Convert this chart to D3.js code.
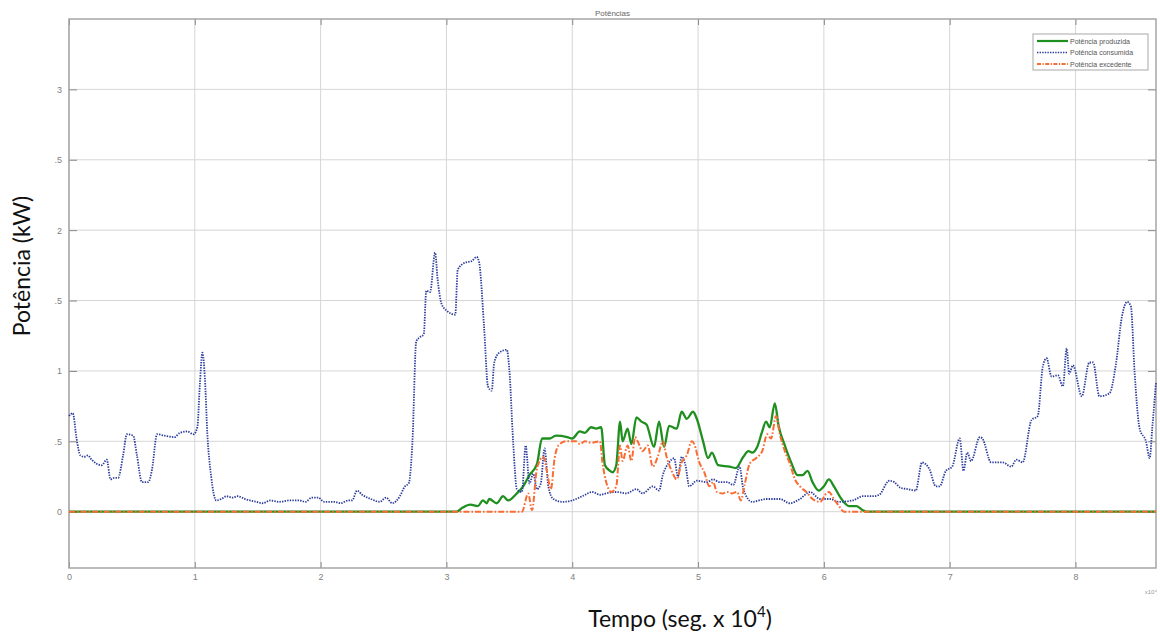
<!DOCTYPE html>
<html>
<head>
<meta charset="utf-8">
<script src="https://cdn.jsdelivr.net/npm/d3@7"></script>
<style>
  html, body { margin: 0; padding: 0; background: #ffffff; }
  svg { display: block; }
</style>
</head>
<body>
<svg id="chart" width="1160" height="632"></svg>
<script>
// ---------- data (time in seg x 10^4, power in kW) ----------
const chartTitle = "Potências";
const xLabel = "Tempo (seg. x 10";
const yLabel = "Potência (kW)";
const seriesNames = ["Potência produzida", "Potência consumida", "Potência excedente"];

const xTicks = [0, 1, 2, 3, 4, 5, 6, 7, 8];
const xTickLabels = ["0", "1", "2", "3", "4", "5", "6", "7", "8"];
const yTicks = [0, 0.5, 1, 1.5, 2, 2.5, 3];
const yTickLabels = ["0", ".5", "1", ".5", "2", ".5", "3"];

const tConsumida = [0.00,0.03,0.06,0.09,0.12,0.15,0.18,0.22,0.26,0.30,0.33,0.36,0.39,0.43,0.46,0.51,0.54,0.58,0.63,0.66,0.70,0.76,0.84,0.88,0.94,0.99,1.02,1.04,1.06,1.08,1.10,1.13,1.17,1.21,1.25,1.30,1.34,1.40,1.49,1.54,1.60,1.67,1.75,1.83,1.88,1.93,1.98,2.03,2.11,2.16,2.22,2.25,2.29,2.33,2.40,2.47,2.52,2.57,2.63,2.67,2.70,2.73,2.76,2.79,2.82,2.84,2.87,2.91,2.93,2.96,3.00,3.07,3.09,3.15,3.20,3.24,3.26,3.30,3.33,3.36,3.38,3.42,3.48,3.50,3.53,3.56,3.60,3.63,3.66,3.69,3.72,3.75,3.78,3.81,3.85,3.92,4.00,4.08,4.16,4.22,4.27,4.35,4.43,4.51,4.56,4.64,4.69,4.72,4.77,4.81,4.84,4.87,4.90,4.93,4.99,5.07,5.12,5.17,5.23,5.28,5.33,5.36,5.43,5.54,5.65,5.73,5.81,5.89,5.97,6.05,6.12,6.23,6.31,6.39,6.44,6.52,6.56,6.61,6.67,6.73,6.78,6.84,6.89,6.92,6.97,7.02,7.08,7.11,7.14,7.17,7.24,7.26,7.33,7.42,7.49,7.53,7.58,7.65,7.70,7.74,7.77,7.81,7.86,7.90,7.93,7.95,7.98,8.05,8.11,8.14,8.19,8.27,8.32,8.37,8.41,8.44,8.47,8.51,8.56,8.59,8.61,8.64];
const pConsumida = [0.68,0.70,0.52,0.40,0.39,0.40,0.37,0.34,0.33,0.37,0.23,0.24,0.24,0.40,0.55,0.54,0.40,0.21,0.21,0.30,0.55,0.54,0.53,0.56,0.57,0.55,0.60,0.90,1.13,0.95,0.55,0.25,0.08,0.09,0.11,0.10,0.11,0.09,0.07,0.06,0.08,0.07,0.08,0.08,0.07,0.10,0.10,0.07,0.07,0.06,0.08,0.08,0.15,0.12,0.09,0.07,0.10,0.06,0.11,0.18,0.20,0.50,1.21,1.24,1.26,1.57,1.56,1.84,1.65,1.48,1.43,1.40,1.72,1.77,1.78,1.81,1.77,1.30,0.89,0.86,1.06,1.13,1.15,1.01,0.50,0.16,0.14,0.47,0.20,0.27,0.16,0.20,0.45,0.18,0.09,0.07,0.08,0.11,0.14,0.12,0.13,0.14,0.13,0.16,0.13,0.18,0.15,0.26,0.35,0.38,0.25,0.39,0.33,0.18,0.22,0.21,0.23,0.21,0.21,0.19,0.32,0.16,0.07,0.09,0.09,0.06,0.09,0.14,0.09,0.09,0.07,0.08,0.11,0.11,0.12,0.22,0.21,0.17,0.16,0.15,0.35,0.30,0.18,0.18,0.29,0.32,0.52,0.29,0.42,0.36,0.53,0.52,0.35,0.35,0.32,0.37,0.35,0.65,0.68,1.03,1.09,0.96,0.97,0.89,1.16,0.98,1.04,0.82,1.06,1.06,0.82,0.84,1.04,1.39,1.49,1.46,0.99,0.59,0.50,0.38,0.59,0.92];

const tProduzida = [0,3.08,3.13,3.19,3.25,3.29,3.32,3.34,3.40,3.45,3.49,3.56,3.61,3.66,3.72,3.76,3.82,3.87,3.96,4.00,4.06,4.10,4.15,4.19,4.23,4.26,4.30,4.32,4.35,4.38,4.40,4.44,4.47,4.51,4.55,4.59,4.65,4.69,4.73,4.77,4.83,4.87,4.91,4.96,4.99,5.04,5.08,5.11,5.16,5.25,5.30,5.36,5.40,5.43,5.47,5.51,5.54,5.57,5.61,5.64,5.69,5.74,5.79,5.83,5.87,5.91,5.96,6.00,6.04,6.08,6.14,6.20,6.26,6.31,6.34,8.64];
const pProduzida = [0,0,0.03,0.05,0.04,0.08,0.06,0.09,0.06,0.11,0.08,0.13,0.18,0.26,0.34,0.52,0.52,0.54,0.53,0.52,0.57,0.56,0.60,0.59,0.60,0.33,0.29,0.28,0.33,0.64,0.50,0.59,0.48,0.67,0.64,0.62,0.46,0.64,0.46,0.61,0.59,0.71,0.66,0.71,0.66,0.50,0.38,0.42,0.33,0.32,0.31,0.39,0.43,0.42,0.46,0.57,0.64,0.60,0.77,0.61,0.47,0.35,0.26,0.26,0.29,0.21,0.15,0.18,0.23,0.18,0.09,0.04,0.04,0.01,0,0];

const tExcedente = [0,3.60,3.65,3.68,3.72,3.77,3.80,3.83,3.86,3.89,3.95,4.03,4.06,4.10,4.15,4.22,4.24,4.27,4.31,4.35,4.38,4.40,4.44,4.47,4.50,4.52,4.56,4.60,4.64,4.68,4.72,4.75,4.79,4.83,4.87,4.91,4.95,4.97,5.01,5.05,5.09,5.12,5.15,5.20,5.23,5.27,5.31,5.34,5.37,5.41,5.46,5.51,5.55,5.58,5.62,5.65,5.69,5.73,5.77,5.81,5.86,5.91,5.97,6.02,6.04,6.08,6.12,6.16,8.64];
const pExcedente = [0,0,0.13,0.01,0.31,0.39,0.28,0.16,0.38,0.47,0.50,0.50,0.48,0.50,0.49,0.50,0.35,0.21,0.14,0.18,0.47,0.36,0.47,0.36,0.53,0.50,0.43,0.47,0.32,0.39,0.50,0.39,0.29,0.23,0.35,0.40,0.50,0.48,0.35,0.28,0.18,0.21,0.14,0.13,0.14,0.13,0.14,0.08,0.19,0.34,0.38,0.43,0.55,0.52,0.68,0.55,0.43,0.34,0.23,0.18,0.14,0.09,0.07,0.13,0.14,0.09,0.04,0,0];

// ---------- layout ----------
const svg = d3.select("#chart");
const L = 69, R = 1156, T = 19, B = 568;
const x = d3.scaleLinear().domain([0, 8.64]).range([L, R]);
const y = d3.scaleLinear().domain([-0.4, 3.5]).range([B, T]);

svg.append("rect").attr("x", 0).attr("y", 0).attr("width", 1160).attr("height", 632).attr("fill", "#fff");

// grid
const g = svg.append("g");
g.selectAll(".gx").data(xTicks).enter().append("line")
  .attr("x1", d => x(d)).attr("x2", d => x(d)).attr("y1", T).attr("y2", B)
  .attr("stroke", "#d6d6d6").attr("stroke-width", 1);
g.selectAll(".gy").data(yTicks).enter().append("line")
  .attr("x1", L).attr("x2", R).attr("y1", d => y(d)).attr("y2", d => y(d))
  .attr("stroke", "#d6d6d6").attr("stroke-width", 1);

// axes via d3 (inner ticks)
const fmtX = (d, i) => xTickLabels[i];
const fmtY = (d, i) => yTickLabels[i];
const axB = svg.append("g").attr("transform", `translate(0,${B})`)
  .call(d3.axisBottom(x).tickValues(xTicks).tickFormat(fmtX).tickSizeInner(-6).tickSizeOuter(0).tickPadding(6));
const axT = svg.append("g").attr("transform", `translate(0,${T})`)
  .call(d3.axisTop(x).tickValues(xTicks).tickFormat("").tickSizeInner(-6).tickSizeOuter(0));
const axL = svg.append("g").attr("transform", `translate(${L},0)`)
  .call(d3.axisLeft(y).tickValues(yTicks).tickFormat(fmtY).tickSizeInner(-8).tickSizeOuter(0).tickPadding(7));
const axR = svg.append("g").attr("transform", `translate(${R},0)`)
  .call(d3.axisRight(y).tickValues(yTicks).tickFormat("").tickSizeInner(-8).tickSizeOuter(0));
[axB, axT, axL, axR].forEach(a => {
  a.select(".domain").remove();
  a.selectAll(".tick line").attr("stroke", "#8a8a8a").attr("stroke-width", 1);
  a.selectAll(".tick text").attr("fill", "#808080").attr("font-family", "Liberation Sans, Arial, sans-serif").attr("font-size", 9);
});

// box
svg.append("rect").attr("x", L).attr("y", T).attr("width", R - L).attr("height", B - T)
  .attr("fill", "none").attr("stroke", "#a0a0a0").attr("stroke-width", 1.4);

// lines
const line = d3.line().x(d => x(d[0])).y(d => y(d[1])).curve(d3.curveMonotoneX);
const zip = (a, b) => a.map((v, i) => [v, b[i]]);
const plot = svg.append("g");
plot.append("path").datum(zip(tProduzida, pProduzida)).attr("d", line)
  .attr("fill", "none").attr("stroke", "#1f8f1f").attr("stroke-width", 2.3).attr("stroke-linejoin", "round");
plot.append("path").datum(zip(tConsumida, pConsumida)).attr("d", line)
  .attr("fill", "none").attr("stroke", "#2b3c9c").attr("stroke-width", 1.8).attr("stroke-dasharray", "1.4,1.2");
plot.append("path").datum(zip(tExcedente, pExcedente)).attr("d", line)
  .attr("fill", "none").attr("stroke", "#fa6c33").attr("stroke-width", 2).attr("stroke-dasharray", "6,2,1.6,2");

// title
svg.append("text").attr("x", (L + R) / 2).attr("y", 16).attr("text-anchor", "middle")
  .attr("font-family", "Liberation Sans, Arial, sans-serif").attr("font-size", 8).attr("fill", "#666").text(chartTitle);

// exponent label
svg.append("text").attr("x", 1157).attr("y", 594).attr("text-anchor", "end")
  .attr("font-family", "Liberation Sans, Arial, sans-serif").attr("font-size", 6).attr("fill", "#999").text("x10⁴");

// axis labels
const xl = svg.append("text").attr("x", 680).attr("y", 627).attr("text-anchor", "middle")
  .attr("font-family", "Lato, 'Open Sans', sans-serif").attr("font-size", 23).attr("fill", "#111");
xl.append("tspan").text(xLabel);
xl.append("tspan").attr("dy", -10).attr("font-size", 15).text("4");
xl.append("tspan").attr("dy", 10).text(")");

svg.append("text").attr("transform", "translate(30,266) rotate(-90)").attr("text-anchor", "middle")
  .attr("font-family", "Lato, 'Open Sans', sans-serif").attr("font-size", 23).attr("fill", "#111").text(yLabel);

// legend
const lg = svg.append("g");
lg.append("rect").attr("x", 1033).attr("y", 34).attr("width", 115).attr("height", 36)
  .attr("fill", "#fff").attr("stroke", "#a8a8a8").attr("stroke-width", 1);
const legStyles = [
  {c: "#1f8f1f", w: 2.2, dash: null},
  {c: "#2b3c9c", w: 1.6, dash: "1.4,1.2"},
  {c: "#fa6c33", w: 1.8, dash: "4,1.5,1.2,1.5"}
];
const legY = [41, 52.5, 64];
seriesNames.forEach((n, i) => {
  const l = lg.append("line").attr("x1", 1037).attr("x2", 1068).attr("y1", legY[i]).attr("y2", legY[i])
    .attr("stroke", legStyles[i].c).attr("stroke-width", legStyles[i].w);
  if (legStyles[i].dash) l.attr("stroke-dasharray", legStyles[i].dash);
  lg.append("text").attr("x", 1070).attr("y", legY[i] + 2.5)
    .attr("font-family", "Liberation Sans, Arial, sans-serif").attr("font-size", 7).attr("fill", "#555").text(n);
});
</script>
</body>
</html>
